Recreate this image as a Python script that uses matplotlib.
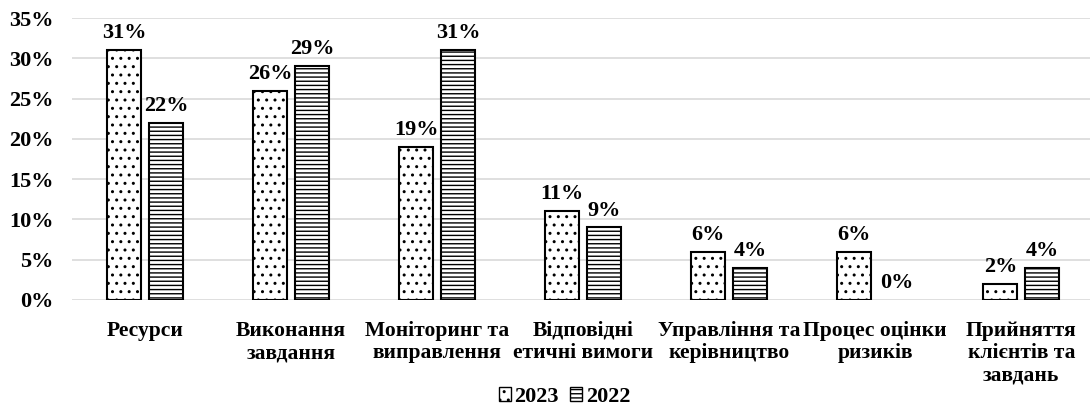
import numpy as np
import matplotlib
matplotlib.use('Agg')
import matplotlib.pyplot as plt
from matplotlib.patches import Patch
from matplotlib.ticker import PercentFormatter

plt.rcParams['font.family'] = ['Liberation Serif', 'DejaVu Serif']
plt.rcParams['font.weight'] = 'bold'
plt.rcParams['hatch.linewidth'] = 1.0

categories = ['Ресурси', 'Виконання\nзавдання', 'Моніторинг та\nвиправлення',
              'Відповідні\nетичні вимоги', 'Управління та\nкерівництво',
              'Процес оцінки\nризиків', 'Прийняття\nклієнтів та\nзавдань']
values_2023 = [31, 26, 19, 11, 6, 6, 2]
values_2022 = [22, 29, 31, 9, 4, 0, 4]
series = [('2023', values_2023, '..'), ('2022', values_2022, '----')]

FS = 16

fig = plt.figure(figsize=(10.9, 4.12), dpi=100)
ax = fig.add_axes([0.066, 0.272, 0.934, 0.684])

x = np.arange(len(categories))
width = 0.233
offsets = [-0.144, 0.144]

for (name, vals, hatch), off in zip(series, offsets):
    edges = ['black' if v > 0 else 'none' for v in vals]
    bars = ax.bar(x + off, vals, width, facecolor='white', edgecolor=edges,
                  linewidth=1.5, hatch=hatch, label=name, zorder=3)
    for b, v in zip(bars, vals):
        ax.annotate(f'{v}%', (b.get_x() + b.get_width() / 2, v),
                    xytext=(0, 5), textcoords='offset points',
                    ha='center', va='bottom', fontsize=FS, fontweight='bold')

ax.set_xlim(-0.5, 6.47)
ax.set_ylim(0, 35)
ax.set_yticks(np.arange(0, 36, 5))
ax.yaxis.set_major_formatter(PercentFormatter(decimals=0))
ax.set_xticks(x)
ax.set_xticklabels(categories, fontsize=15.5, fontweight='bold', linespacing=1.15)
ax.tick_params(axis='y', length=0, labelsize=FS, pad=13)
ax.tick_params(axis='x', length=0, pad=15)
ax.grid(axis='y', color='#d9d9d9', linewidth=1.2, zorder=0)
for s in ax.spines.values():
    s.set_visible(False)

handles = [Patch(facecolor='white', edgecolor='black', hatch=h, linewidth=1)
           for _, _, h in series]
fig.legend(handles, [n for n, _, _ in series], loc='center',
           bbox_to_anchor=(0.518, 0.037), ncol=2, frameon=False,
           handlelength=0.55, handleheight=0.55, handletextpad=0.15,
           columnspacing=0.5, borderpad=0, prop={'size': FS, 'weight': 'bold'})

fig.savefig('out.png', dpi=100)
